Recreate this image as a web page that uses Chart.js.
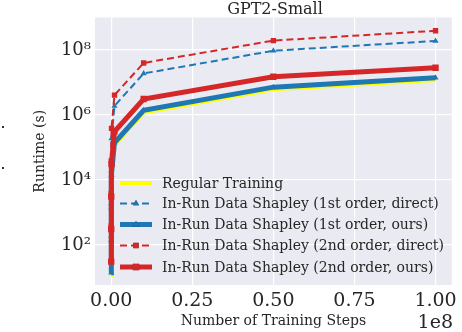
<!DOCTYPE html>
<html>
<head>
<meta charset="utf-8">
<script src="https://cdn.jsdelivr.net/npm/chart.js@4.4.0/dist/chart.umd.min.js"></script>
<style>
  html, body { margin: 0; padding: 0; background: #ffffff; }
</style>
</head>
<body>
<canvas id="chart-runtime" width="462" height="332"></canvas>
<script>
// passos de treino (eixo x) e tempo de execucao em segundos (eixo y, log)
const passos = [1e2, 1e3, 1e4, 1e5, 1e6, 1e7, 5e7, 1e8];
const treinoRegular = [12, 120, 1200, 12000, 120000, 1.2e6, 6.2e6, 1.2e7];
const primeiraDireta = [190, 1900, 19000, 190000, 1.9e6, 1.9e7, 9.5e7, 1.9e8];
const primeiraNossa = [14, 140, 1400, 14000, 140000, 1.4e6, 7.2e6, 1.4e7];
const segundaDireta = [390, 3900, 39000, 390000, 4.1e6, 4.0e7, 1.95e8, 3.9e8];
const segundaNossa = [31, 310, 3100, 31000, 310000, 3.1e6, 1.5e7, 2.85e7];

const ticksX = [0, 2.5e7, 5e7, 7.5e7, 1e8];
const ticksY = [1e2, 1e4, 1e6, 1e8];

const nomes = [
  "Regular Training",
  "In-Run Data Shapley (1st order, direct)",
  "In-Run Data Shapley (1st order, ours)",
  "In-Run Data Shapley (2nd order, direct)",
  "In-Run Data Shapley (2nd order, ours)",
];

const corAmarela = "#ffff00";
const corAzul = "#1f77b4";
const corVermelha = "#d62728";
const corTexto = "#262626";
const fonte = "'DejaVu Serif', serif";

const sobrescrito = { 2: "\u00b2", 4: "\u2074", 6: "\u2076", 8: "\u2078" };

function pontos(valores) {
  return passos.map((p, i) => ({ x: p, y: valores[i] }));
}

// estilos de cada serie (usados no grafico e na legenda)
const estilos = [
  { cor: corAmarela, largura: 4, tracejado: [], marcador: false, raio: 0 },
  { cor: corAzul, largura: 2, tracejado: [7, 4], marcador: "triangle", raio: 3.5 },
  { cor: corAzul, largura: 5, tracejado: [], marcador: "triangle", raio: 3.5 },
  { cor: corVermelha, largura: 2, tracejado: [7, 4], marcador: "rect", raio: 3.8 },
  { cor: corVermelha, largura: 5, tracejado: [], marcador: "rect", raio: 4.5 },
];

const series = [treinoRegular, primeiraDireta, primeiraNossa, segundaDireta, segundaNossa];

const datasets = series.map((valores, i) => ({
  label: nomes[i],
  data: pontos(valores),
  borderColor: estilos[i].cor,
  backgroundColor: estilos[i].cor,
  borderWidth: estilos[i].largura,
  borderDash: estilos[i].tracejado,
  pointStyle: estilos[i].marcador,
  pointRadius: estilos[i].raio,
  pointBorderWidth: 0,
  tension: 0,
  order: 4 - i,
}));

const fundoArea = {
  id: "fundoArea",
  beforeDraw(chart) {
    const { ctx, chartArea: a } = chart;
    ctx.save();
    ctx.fillStyle = "#eaeaf2";
    ctx.fillRect(a.left, a.top, a.right - a.left, a.bottom - a.top);
    ctx.restore();
  }
};

const textosExtras = {
  id: "textosExtras",
  afterDraw(chart) {
    const { ctx } = chart;
    ctx.save();
    ctx.fillStyle = corTexto;
    ctx.textBaseline = "alphabetic";

    ctx.font = "16px " + fonte;
    ctx.textAlign = "center";
    ctx.fillText("GPT2-Small", 275, 13.5);

    ctx.font = "19px " + fonte;
    ctx.textAlign = "right";
    ctx.fillText("1e8", 453, 328);

    // pontinhos soltos na borda esquerda
    ctx.fillStyle = "#333";
    ctx.fillRect(2, 126, 2, 2);
    ctx.fillRect(2, 167, 2, 2);

    // legenda
    const x0 = 120, x1 = 152, xm = 136, xt = 162;
    const linhasY = [183, 203.5, 224.5, 245.5, 267];
    ctx.font = "14px " + fonte;
    ctx.textAlign = "left";
    ctx.textBaseline = "middle";
    estilos.forEach((e, i) => {
      const y = linhasY[i];
      ctx.strokeStyle = e.cor;
      ctx.lineWidth = e.largura;
      ctx.setLineDash(e.tracejado);
      ctx.beginPath();
      ctx.moveTo(x0, y);
      ctx.lineTo(x1, y);
      ctx.stroke();
      ctx.setLineDash([]);
      if (e.marcador) {
        Chart.helpers.drawPoint(ctx, {
          pointStyle: e.marcador, radius: e.raio, borderWidth: 0, rotation: 0
        }, xm, y);
        ctx.fillStyle = e.cor;
        ctx.fill();
      }
      ctx.fillStyle = corTexto;
      ctx.fillText(nomes[i], xt, y + 1);
    });
    ctx.restore();
  }
};

const chartRuntime = new Chart(document.getElementById("chart-runtime"), {
  type: "line",
  data: { datasets: datasets },
  plugins: [fundoArea, textosExtras],
  options: {
    responsive: false,
    animation: false,
    layout: { padding: { top: 17.5, right: 7, left: 0, bottom: 0 } },
    plugins: {
      legend: { display: false },
      tooltip: { enabled: false },
      title: { display: false }
    },
    scales: {
      x: {
        type: "linear",
        min: -5e6,
        max: 1.05e8,
        afterBuildTicks: (scale) => { scale.ticks = ticksX.map(v => ({ value: v })); },
        afterFit: (scale) => { scale.height = 47; },
        grid: { color: "#ffffff", lineWidth: 1.2, drawTicks: false },
        border: { display: false },
        ticks: {
          color: corTexto,
          padding: 5,
          maxRotation: 0,
          font: { family: fonte, size: 19 },
          callback: (v) => (v / 1e8).toFixed(2)
        },
        title: {
          display: true,
          text: "Number of Training Steps",
          color: corTexto,
          font: { family: fonte, size: 14 },
          padding: { top: 0, bottom: 2 }
        }
      },
      y: {
        type: "logarithmic",
        min: 5.9,
        max: 1e9,
        afterBuildTicks: (scale) => { scale.ticks = ticksY.map(v => ({ value: v })); },
        afterFit: (scale) => { scale.width = 95; },
        grid: { color: "#ffffff", lineWidth: 1.2, drawTicks: false },
        border: { display: false },
        ticks: {
          color: corTexto,
          padding: 4,
          font: { family: fonte, size: 18 },
          callback: (v) => "10" + sobrescrito[Math.round(Math.log10(v))]
        },
        title: {
          display: true,
          text: "Runtime (s)",
          color: corTexto,
          font: { family: fonte, size: 14 },
          padding: { top: 32, bottom: 0 }
        }
      }
    }
  }
});
</script>
</body>
</html>
